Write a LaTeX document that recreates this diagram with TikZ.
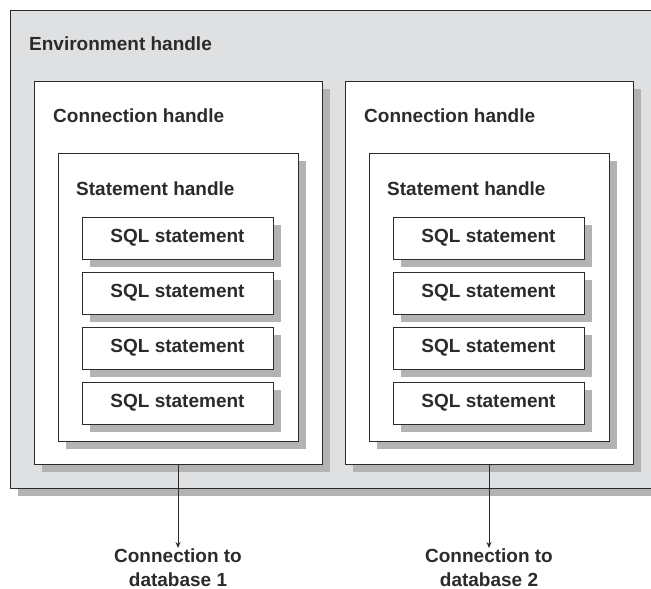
\documentclass[tikz,border=0pt]{standalone}
\usepackage{fontspec}
\setmainfont{Liberation Sans}
\usetikzlibrary{shadows,arrows.meta}
\definecolor{envgray}{HTML}{DFE0E2}
\definecolor{shadowgray}{HTML}{B3B3B3}
\definecolor{linegray}{HTML}{2B2B2B}
\tikzset{
    handle-box/.style = {draw=linegray, line width=1pt, rectangle, anchor=north west, inner sep=0pt, outer sep=0pt,
        general shadow={fill=shadowgray, shadow xshift=8pt, shadow yshift=-8pt}},
    handle-title/.style = {anchor=base west, inner sep=0pt, text=linegray, font=\bfseries\fontsize{19}{23.5}\selectfont},
    sql-box/.style = {handle-box, fill=white, minimum width=191pt, minimum height=42pt, anchor=north west,
        text=linegray, font=\bfseries\fontsize{19}{23.5}\selectfont},
    db-label/.style = {anchor=north, inner sep=1pt, align=center, text=linegray, font=\bfseries\fontsize{19}{23.5}\selectfont},
    link/.style = {draw=linegray, line width=0.9pt, -{Stealth[length=6pt,width=5pt]}},
}

\begin{document}
\begin{tikzpicture}[x=1pt, y=-1pt]
\clip (0,0) rectangle (651,589);
% outer handle
\node [handle-box, fill=envgray, minimum width=650pt, minimum height=478pt] (env) at (10,10) {};
\node [handle-title] at (29,50) {Environment handle};
% connection handles
\node [handle-box, fill=white, minimum width=288pt, minimum height=383pt] (conn1) at (34,81) {};
\node [handle-box, fill=white, minimum width=288pt, minimum height=383pt] (conn2) at (345,81) {};
\node [handle-title] at (53,122) {Connection handle};
\node [handle-title] at (364,122) {Connection handle};
% statement handles
\node [handle-box, fill=white, minimum width=240pt, minimum height=288pt] (stmt1) at (58,153) {};
\node [handle-box, fill=white, minimum width=240pt, minimum height=288pt] (stmt2) at (369,153) {};
\node [handle-title] at (76,195) {Statement handle};
\node [handle-title] at (387,195) {Statement handle};
% sql statements
\foreach \y [count=\i] in {217,272,327,382} {
    \node [sql-box] (sql1-\i) at (82,\y) {SQL statement};
    \node [sql-box] (sql2-\i) at (393,\y) {SQL statement};
}
% databases
\node [db-label] (db1) at (178,548) {Connection to\\database 1};
\node [db-label] (db2) at (489,548) {Connection to\\database 2};
\draw [link] (conn1.south) -- (db1.north);
\draw [link] (conn2.south) -- (db2.north);
\end{tikzpicture}
\end{document}
